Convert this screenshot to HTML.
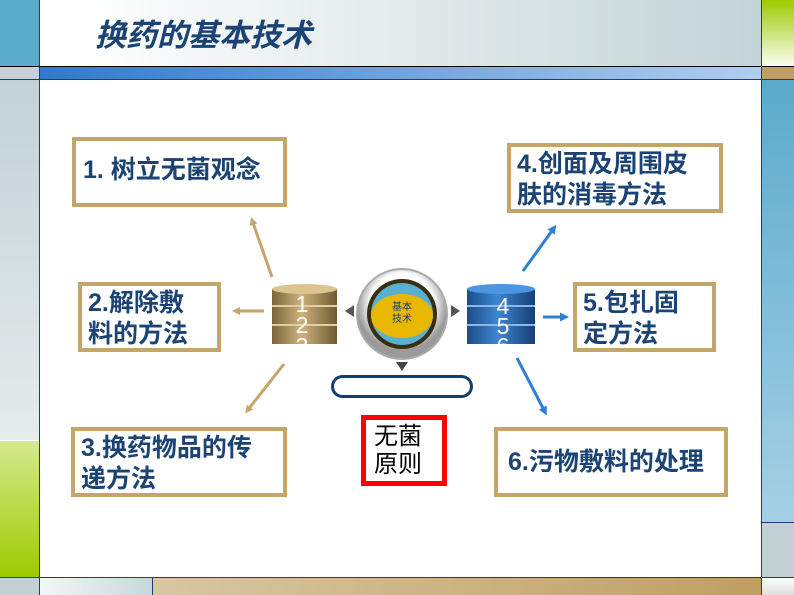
<!DOCTYPE html>
<html><head><meta charset="utf-8"><style>
body{margin:0;width:794px;height:595px;position:relative;overflow:hidden;background:#fff;font-family:"Liberation Sans","Noto Sans CJK SC",sans-serif}
div{position:absolute;box-sizing:border-box}
.box{border:4px solid #c4a56a;background:#fff;color:#1b4474;font-size:25px;line-height:31px;padding:2px 6px;font-weight:bold;white-space:nowrap}
</style></head><body>
<div style="left:0;top:0;width:39px;height:66px;background:#5aaacc"></div>
<div style="left:0;top:67px;width:39px;height:12px;background:#c3d1d5"></div>
<div style="left:0;top:80px;width:39px;height:360px;background:linear-gradient(#c3d1d5,#e4ecec)"></div>
<div style="left:0;top:441px;width:39px;height:136px;background:linear-gradient(#d6e98f,#9dcb00)"></div>
<div style="left:0;top:578px;width:39px;height:17px;background:#c3d1d5"></div>
<div style="left:39px;top:0;width:1px;height:595px;background:#1b3f6e"></div>
<div style="left:40px;top:0;width:721px;height:66px;background:linear-gradient(90deg,#fff 5%,#c3d4d6)"></div>
<div style="left:0;top:66px;width:794px;height:1px;background:#000"></div>
<div style="left:40px;top:67px;width:721px;height:12px;background:linear-gradient(90deg,#2e7ace,#b1cdef)"></div>
<div style="left:0;top:79px;width:794px;height:1px;background:#1b3f6e"></div>
<div style="left:761px;top:0;width:1px;height:595px;background:#1b3f6e"></div>
<div style="left:762px;top:0;width:32px;height:66px;background:linear-gradient(#9dcb00,#fafcf2)"></div>
<div style="left:762px;top:67px;width:32px;height:12px;background:#bf9f62"></div>
<div style="left:762px;top:80px;width:32px;height:442px;background:linear-gradient(#5aaacc,#a6d0e4)"></div>
<div style="left:762px;top:522px;width:32px;height:55px;background:#c3d0d4;border-top:1px solid #1b3f6e"></div>
<div style="left:0;top:577px;width:794px;height:1px;background:#1b3f6e"></div>
<div style="left:40px;top:578px;width:112px;height:17px;background:linear-gradient(90deg,#f5f7f7,#c8d7da)"></div>
<div style="left:152px;top:578px;width:1px;height:17px;background:#1b3f6e"></div>
<div style="left:153px;top:578px;width:608px;height:17px;background:linear-gradient(90deg,#d8c7a3,#bf9f62)"></div>
<div style="left:762px;top:578px;width:32px;height:17px;background:linear-gradient(#fff,#ddd)"></div>
<div style="left:95px;top:16px;font-size:31px;font-style:italic;font-weight:bold;color:#1b4474;line-height:40px">换药的基本技术</div>

<div class="box" style="left:72px;top:137px;width:215px;height:70px;padding-top:14px;padding-left:7px">1. 树立无菌观念</div>
<div class="box" style="left:78px;top:282px;width:143px;height:70px">2.解除敷<br>料的方法</div>
<div class="box" style="left:71px;top:427px;width:216px;height:70px">3.换药物品的传<br>递方法</div>
<div class="box" style="left:507px;top:143px;width:216px;height:70px">4.创面及周围皮<br>肤的消毒方法</div>
<div class="box" style="left:573px;top:282px;width:143px;height:70px">5.包扎固<br>定方法</div>
<div class="box" style="left:494px;top:427px;width:234px;height:70px;padding-top:16px;padding-left:10px">6.污物敷料的处理</div>
<div style="left:361px;top:415px;width:86px;height:71px;border:5px solid #f00;font-size:24px;line-height:28px;padding:3px 0 0 8px;color:#000">无菌<br>原则</div>
<div style="left:331px;top:375px;width:142px;height:23px;border:3px solid #123f72;border-radius:12px"></div>

<svg width="794" height="595" style="position:absolute;left:0;top:0">
<defs>
<linearGradient id="tan" x1="0" x2="1"><stop offset="0" stop-color="#7a643a"/><stop offset=".45" stop-color="#cdb27a"/><stop offset="1" stop-color="#6e5a33"/></linearGradient>
<linearGradient id="blu" x1="0" x2="1"><stop offset="0" stop-color="#1a4e8c"/><stop offset=".45" stop-color="#3f86d0"/><stop offset="1" stop-color="#153f75"/></linearGradient>
<radialGradient id="sil" cx=".5" cy=".4"><stop offset=".7" stop-color="#fff"/><stop offset="1" stop-color="#9a9a9a"/></radialGradient>
<marker id="at" markerWidth="8" markerHeight="8" refX="5" refY="4" orient="auto" markerUnits="userSpaceOnUse"><path d="M0,0L8,4L0,8z" fill="#c4a56a"/></marker>
<marker id="ab" markerWidth="9" markerHeight="9" refX="5" refY="4.5" orient="auto" markerUnits="userSpaceOnUse"><path d="M0,0L9,4.5L0,9z" fill="#2f7fd4"/></marker>
</defs>
<g stroke="#c4a56a" stroke-width="3" marker-end="url(#at)">
<line x1="272" y1="277" x2="252" y2="220"/>
<line x1="264" y1="311" x2="235" y2="311"/>
<line x1="284" y1="364" x2="247" y2="411"/>
</g>
<g stroke="#2f7fd4" stroke-width="3" marker-end="url(#ab)">
<line x1="523" y1="271" x2="554" y2="228"/>
<line x1="543" y1="317" x2="565" y2="317"/>
<line x1="517" y1="358" x2="545" y2="412"/>
</g>
<g>
<rect x="272" y="289" width="65" height="55" fill="url(#tan)"/>
<ellipse cx="304.5" cy="289" rx="32.5" ry="5" fill="#dcc48e"/>
<line x1="272" y1="306" x2="337" y2="306" stroke="#e0cfa6" stroke-width="2"/>
<line x1="272" y1="325" x2="337" y2="325" stroke="#e0cfa6" stroke-width="2"/>
<g fill="#fff" font-size="23" text-anchor="middle" font-family="Liberation Sans"><text x="302" y="312">1</text><text x="302" y="333">2</text><text x="302" y="354">3</text></g>
<rect x="270" y="345" width="70" height="12" fill="#fff"/>
</g>
<g>
<rect x="467" y="289" width="68" height="55" fill="url(#blu)"/>
<ellipse cx="501" cy="289" rx="34" ry="5" fill="#4c95e0"/>
<line x1="467" y1="306" x2="535" y2="306" stroke="#8ab8ea" stroke-width="2"/>
<line x1="467" y1="325" x2="535" y2="325" stroke="#8ab8ea" stroke-width="2"/>
<g fill="#fff" font-size="23" text-anchor="middle" font-family="Liberation Sans"><text x="503" y="314">4</text><text x="503" y="334">5</text><text x="503" y="354">6</text></g>
<rect x="465" y="345" width="72" height="12" fill="#fff"/>
</g>
<circle cx="402" cy="314" r="45" fill="url(#sil)" stroke="#aaa" stroke-width="2"/>
<circle cx="402" cy="314" r="35" fill="#3a2e10"/>
<circle cx="402" cy="314" r="31" fill="#5ab0d0"/>
<ellipse cx="402" cy="316" rx="31" ry="22" fill="#e8b800"/>
<text x="402" y="310" font-size="10" fill="#1b3f6e" text-anchor="middle">基本</text>
<text x="402" y="322" font-size="10" fill="#1b3f6e" text-anchor="middle">技术</text>
<path d="M354,305L345,311L354,317z" fill="#555"/>
<path d="M451,305L460,311L451,317z" fill="#555"/>
<path d="M396,362L408,362L402,371z" fill="#444"/>
</svg>
</body></html>
